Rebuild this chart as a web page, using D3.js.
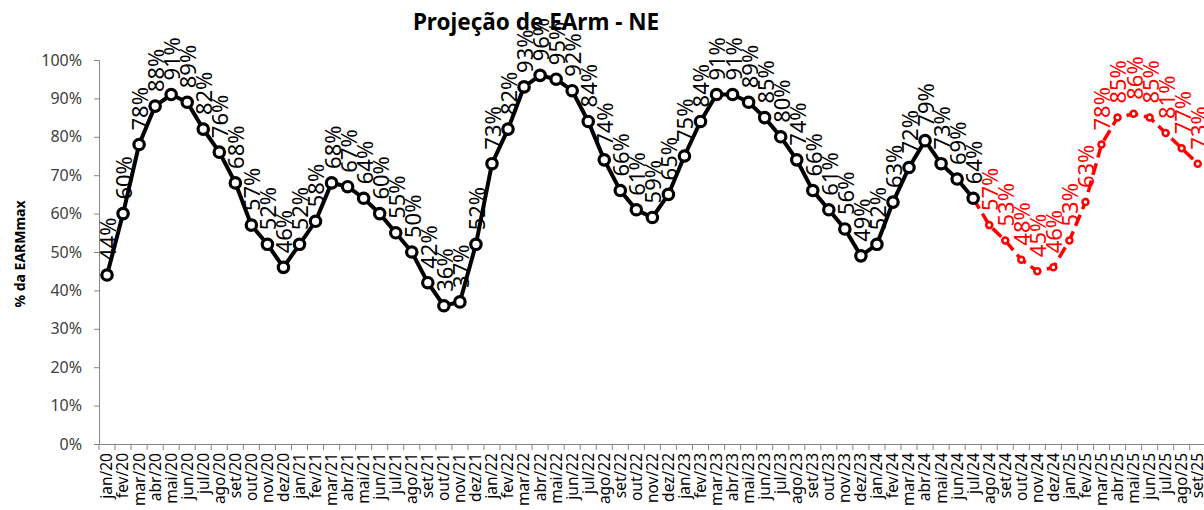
<!DOCTYPE html>
<html><head><meta charset="utf-8">
<script src="https://cdn.jsdelivr.net/npm/d3@7"></script>
<style>body{margin:0;background:#fff;}svg{display:block;font-family:"Noto Sans",sans-serif;}</style>
</head><body><svg id="c" width="1204" height="510"></svg>
<script>
const months = ["jan","fev","mar","abr","mai","jun","jul","ago","set","out","nov","dez"];
const categories = [];
["20","21","22","23","24","25"].forEach(y => months.forEach(m => categories.push(m + "/" + y)));
categories.splice(69);
const historico = [
  44,60,78,88,91,89,82,76,68,57,52,46,
  52,58,68,67,64,60,55,50,42,36,37,52,
  73,82,93,96,95,92,84,74,66,61,59,65,
  75,84,91,91,89,85,80,74,66,61,56,49,
  52,63,72,79,73,69,64
];
const projecao = [57,53,48,45,46,53,63,78,85,86,85,81,77,73];
const yTicks = [0,10,20,30,40,50,60,70,80,90,100];

const histData = historico.map((v,i)=>({c:categories[i],v}));
const projStart = historico.length;
const projData = projecao.map((v,i)=>({c:categories[projStart+i],v}));
const projLine = [histData[histData.length-1]].concat(projData);

const svg = d3.select("#c");
const mLeft = 99, mTop = 60, mBottom = 444;
const bw = 16.04;
const x = d3.scaleBand().domain(categories).range([mLeft, mLeft + categories.length*bw]).padding(0);
const y = d3.scaleLinear().domain([0,100]).range([mBottom, mTop]);
const cx = c => x(c) + x.bandwidth()/2;

// title
svg.append("text").attr("x",536).attr("y",30).attr("text-anchor","middle")
  .attr("font-size",22.5).attr("font-weight","bold").attr("fill","#000").text("Projeção de EArm - NE");
// y title
svg.append("text").attr("transform","translate(25,254) rotate(-90)").attr("text-anchor","middle")
  .attr("font-size",14).attr("font-weight","bold").attr("fill","#000").text("% da EARMmax");

// y axis
const yAxis = d3.axisLeft(y).tickValues(yTicks).tickFormat(d=>d+"%").tickSize(5).tickPadding(12);
const gy = svg.append("g").attr("transform",`translate(${mLeft},0)`).call(yAxis);
gy.selectAll("path,line").attr("stroke","#868686").attr("stroke-width",1);
gy.selectAll("text").attr("font-size",16).attr("fill","#404040").attr("font-family","Noto Sans, sans-serif");

// x axis
const xAxis = d3.axisBottom(x).tickSize(0);
const gx = svg.append("g").attr("transform",`translate(0,${mBottom})`).call(xAxis);
gx.select("path").attr("stroke","#868686").attr("stroke-width",1);
gx.selectAll("text").attr("font-size",15.5).attr("fill","#000").attr("font-family","Noto Sans, sans-serif")
  .attr("text-anchor","end").attr("transform","rotate(-90)").attr("x",-9).attr("y",0).attr("dy","0.35em");
// boundary ticks
gx.selectAll("line.bt").data(categories.concat(["__end"])).enter().append("line")
  .attr("x1",(d,i)=>mLeft+i*bw).attr("x2",(d,i)=>mLeft+i*bw).attr("y1",0).attr("y2",6)
  .attr("stroke","#868686").attr("stroke-width",1);

const line = d3.line().x(d=>cx(d.c)).y(d=>y(d.v));

// projection
svg.append("path").datum(projLine).attr("d",line).attr("fill","none")
  .attr("stroke","#ff0000").attr("stroke-width",3.5).attr("stroke-dasharray","12,6");
svg.selectAll("circle.p").data(projData).enter().append("circle")
  .attr("cx",d=>cx(d.c)).attr("cy",d=>y(d.v)).attr("r",3).attr("fill","#fff")
  .attr("stroke","#ff0000").attr("stroke-width",2.5);

// historical
svg.append("path").datum(histData).attr("d",line).attr("fill","none")
  .attr("stroke","#000").attr("stroke-width",4);
svg.selectAll("circle.h").data(histData).enter().append("circle")
  .attr("cx",d=>cx(d.c)).attr("cy",d=>y(d.v)).attr("r",5.2).attr("fill","#fff")
  .attr("stroke","#000").attr("stroke-width",3.2);

// labels
function labels(data, color){
  svg.append("g").selectAll("text").data(data).enter().append("text")
    .attr("transform",d=>`translate(${cx(d.c)+1},${y(d.v)-14}) rotate(-90)`)
    .attr("dy","0.36em").attr("text-anchor","start")
    .attr("font-size",22).attr("fill",color).text(d=>d.v+"%");
}
labels(histData,"#000");
labels(projData,"#ff0000");
</script></body></html>
